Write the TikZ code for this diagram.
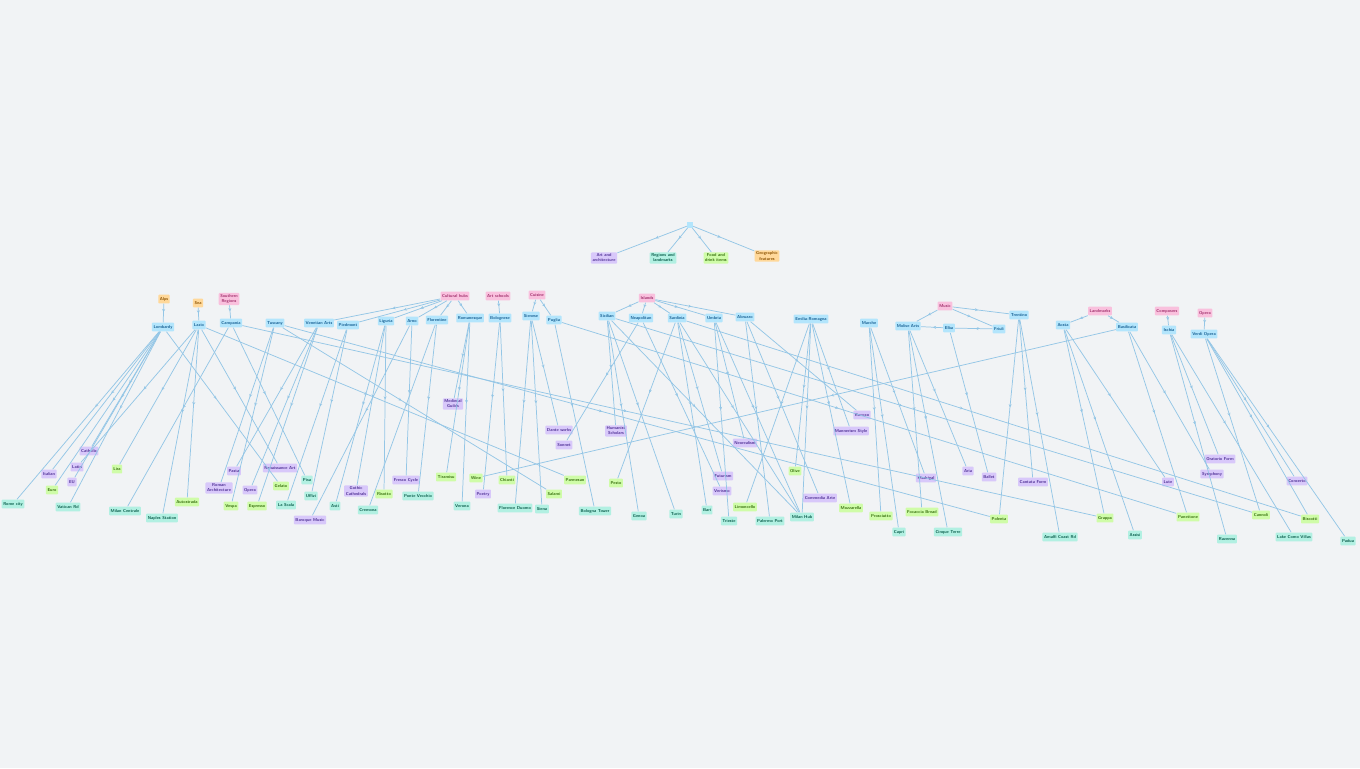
\documentclass[tikz,border=0pt]{standalone}
\usetikzlibrary{arrows.meta,decorations.markings}
\definecolor{bgc}{HTML}{F1F3F5}
\definecolor{linkc}{HTML}{94C6E6}
\definecolor{entfill}{HTML}{B3E5FC}\definecolor{enttext}{HTML}{155E92}
\definecolor{catfill}{HTML}{F9C0DD}\definecolor{cattext}{HTML}{A0306C}
\definecolor{geofill}{HTML}{FFD89A}\definecolor{geotext}{HTML}{8A5000}
\definecolor{artfill}{HTML}{D8C8FA}\definecolor{arttext}{HTML}{4E2F94}
\definecolor{placefill}{HTML}{B2F0E2}\definecolor{placetext}{HTML}{085C4A}
\definecolor{foodfill}{HTML}{CFFCA8}\definecolor{foodtext}{HTML}{356E0C}

\begin{document}
\begin{tikzpicture}[x=0.02cm, y=-0.02cm,
  font=\sffamily\bfseries\fontsize{2.4}{2.9}\selectfont,
  box/.style={rounded corners=0.5pt, inner sep=0.9pt, minimum height=5pt, align=center},
  ent/.style={box, fill=entfill, text=enttext},
  cat/.style={box, fill=catfill, text=cattext},
  geo/.style={box, fill=geofill, text=geotext},
  art/.style={box, fill=artfill, text=arttext},
  place/.style={box, fill=placefill, text=placetext},
  food/.style={box, fill=foodfill, text=foodtext},
  link/.style={draw=linkc, line width=0.42pt, postaction={decorate},
    decoration={markings, mark=at position 0.45 with {\arrow[linkc]{Stealth[length=1.7pt,width=1.7pt]}}}}]
  \fill[bgc] (0,0) rectangle (1360,768);
  \useasboundingbox (0,0) rectangle (1360,768);

  % top tree
  \node[fill=entfill, minimum size=3pt, inner sep=0pt] (root) at (690,225) {};
  \node[art] (t1) at (604,258) {Art and\\architecture};
  \node[place] (t2) at (663,258) {Regions and\\landmarks};
  \node[food] (t3) at (716,258) {Food and\\drink items};
  \node[geo] (t4) at (767,256) {Geographic\\features};

  % categories
  \node[geo] (o1) at (164,299) {Alps};
  \node[geo] (o2) at (198,303) {Sea};
  \node[cat] (k1) at (229,299) {Southern\\Regions};
  \node[cat] (k2) at (455,296) {Cultural hubs};
  \node[cat] (k3) at (498,296) {Art schools};
  \node[cat] (k4) at (537,295) {Cuisine};
  \node[cat] (k5) at (647,298) {Islands};
  \node[cat] (k6) at (945,306) {Music};
  \node[cat] (k7) at (1100,311) {Landmarks};
  \node[cat] (k8) at (1167,311) {Composers};
  \node[cat] (k9) at (1205,313) {Opera};

  % entities
  \node[ent] (p1) at (163,327) {Lombardy};
  \node[ent] (p2) at (199,325) {Lazio};
  \node[ent] (p3) at (231,323) {Campania};
  \node[ent] (p4) at (275,323) {Tuscany};
  \node[ent] (p5) at (319,323) {Venetian Arts};
  \node[ent] (p6) at (348,325) {Piedmont};
  \node[ent] (p7) at (386,321) {Liguria};
  \node[ent] (p8) at (412,321) {Arno};
  \node[ent] (p9) at (437,320) {Florentine};
  \node[ent] (p10) at (470,318) {Romanesque};
  \node[ent] (p11) at (500,318) {Bolognese};
  \node[ent] (p12) at (531,316) {Sienese};
  \node[ent] (p13) at (554,320) {Puglia};
  \node[ent] (p14) at (607,316) {Sicilian};
  \node[ent] (p15) at (641,318) {Neapolitan};
  \node[ent] (p16) at (677,318) {Sardinia};
  \node[ent] (p17) at (714,318) {Umbria};
  \node[ent] (p18) at (745,317) {Abruzzo};
  \node[ent] (p19) at (811,319) {Emilia-Romagna};
  \node[ent] (p20) at (869,323) {Marche};
  \node[ent] (p21) at (908,326) {Molise Arts};
  \node[ent] (p22) at (949,328) {Elba};
  \node[ent] (p23) at (999,329) {Friuli};
  \node[ent] (p24) at (1019,315) {Trentino};
  \node[ent] (p25) at (1063,325) {Aosta};
  \node[ent] (p26) at (1127,327) {Basilicata};
  \node[ent] (p27) at (1169,330) {Ischia};
  \node[ent] (p28) at (1204,334) {Verdi Opera};

  % leaves, left part
  \node[place] (la) at (13,504) {Rome city};
  \node[art] (lb) at (49,474) {Italian};
  \node[food] (lc) at (52,490) {Euro};
  \node[art] (ld) at (72,482) {EU};
  \node[place] (le) at (68,507) {Vatican Rd};
  \node[art] (lf) at (77,467) {Latin};
  \node[art] (lg) at (89,451) {Catholic};
  \node[food] (lh) at (117,469) {Lira};
  \node[place] (li) at (125,511) {Milan Centrale};
  \node[place] (lj) at (162,518) {Naples Station};
  \node[food] (lk) at (187,502) {Autostrada};
  \node[art] (ll) at (219,488) {Roman\\Architecture};
  \node[art] (lm) at (234,471) {Pasta};
  \node[food] (ln) at (231,506) {Vespa};
  \node[art] (lo) at (250,490) {Opera};
  \node[food] (lp) at (257,506) {Espresso};
  \node[art] (lq) at (280,468) {Renaissance Art};
  \node[food] (lr) at (281,486) {Gelato};
  \node[place] (ls) at (286,505) {La Scala};
  \node[place] (lt) at (307,480) {Pisa};
  \node[place] (lu) at (311,496) {Uffizi};
  \node[art] (lv) at (310,520) {Baroque Music};
  \node[place] (lw) at (335,506) {Asti};
  \node[art] (lx) at (356,491) {Gothic\\Cathedrals};
  \node[place] (ly) at (368,510) {Cremona};
  \node[food] (lz) at (384,494) {Risotto};

  % leaves, middle part
  \node[art] (ma) at (406,480) {Fresco Cycle};
  \node[place] (mb) at (418,496) {Ponte Vecchio};
  \node[food] (mc) at (446,477) {Tiramisu};
  \node[art] (md) at (453,404) {Medieval\\Guilds};
  \node[food] (me) at (476,478) {Wine};
  \node[art] (mf) at (483,494) {Poetry};
  \node[food] (mg) at (507,480) {Chianti};
  \node[place] (mh) at (462,506) {Verona};
  \node[place] (mi) at (515,508) {Florence Duomo};
  \node[place] (mj) at (542,509) {Siena};
  \node[food] (mk) at (554,494) {Salami};
  \node[art] (ml) at (559,430) {Dante works};
  \node[art] (mm) at (564,445) {Sonnet};
  \node[art] (mn) at (616,431) {Humanist\\Scholars};
  \node[food] (mo) at (575,480) {Parmesan};
  \node[food] (mp) at (616,483) {Pesto};
  \node[place] (mq) at (595,511) {Bologna Tower};
  \node[place] (mr) at (639,516) {Genoa};
  \node[place] (ms) at (676,514) {Turin};
  \node[place] (mt) at (707,510) {Bari};
  \node[place] (mu) at (729,521) {Trieste};
  \node[art] (mv) at (723,476) {Futurism};
  \node[art] (mw) at (722,491) {Verismo};
  \node[art] (mx) at (745,443) {Neorealism};
  \node[food] (my) at (745,507) {Limoncello};
  \node[place] (mz) at (770,521) {Palermo Port};

  % leaves, right part
  \node[food] (ra) at (795,471) {Olive};
  \node[place] (rb) at (802,517) {Milan Hub};
  \node[art] (rc) at (820,498) {Commedia Arte};
  \node[art] (rd) at (851,431) {Mannerism Style};
  \node[art] (re) at (862,415) {Rococo};
  \node[food] (rf) at (851,508) {Mozzarella};
  \node[food] (rg) at (881,516) {Prosciutto};
  \node[place] (rh) at (899,532) {Capri};
  \node[art] (ri) at (926,478) {Madrigal};
  \node[food] (rj) at (922,512) {Focaccia Bread};
  \node[place] (rk) at (948,532) {Cinque Terre};
  \node[art] (rl) at (968,471) {Aria};
  \node[art] (rm) at (989,477) {Ballet};
  \node[art] (rn) at (1033,482) {Cantata Form};
  \node[food] (ro) at (999,519) {Polenta};
  \node[place] (rp) at (1060,537) {Amalfi Coast Rd};
  \node[food] (rq) at (1105,518) {Grappa};
  \node[place] (rr) at (1135,535) {Assisi};
  \node[art] (rs) at (1168,482) {Lute};
  \node[food] (rt) at (1188,517) {Panettone};
  \node[art] (ru) at (1220,459) {Oratorio Form};
  \node[art] (rv) at (1212,474) {Symphony};
  \node[art] (rw) at (1297,481) {Concerto};
  \node[food] (rx) at (1261,515) {Cannoli};
  \node[food] (ry) at (1310,519) {Biscotti};
  \node[place] (rz) at (1227,539) {Ravenna};
  \node[place] (sa) at (1294,537) {Lake Como Villas};
  \node[place] (sb) at (1348,541) {Padua};

  % connectors
  \foreach \a/\b in {root/t1, root/t2, root/t3, root/t4,
      o1/p1, o2/p2, k1/p3, k2/p5, k2/p6, k2/p7, k2/p8, k2/p9, k2/p10,
      k3/p11, k4/p12, k4/p13, k5/p14, k5/p15, k5/p16, k5/p17, k5/p18,
      k6/p21, k6/p23, k6/p24, p23/p22, p22/p21, k7/p25, k7/p26, k8/p27, k9/p28}
    \draw[link] (\a) -- (\b);
  \foreach \a/\b in {p1/la, p1/lb, p1/lc, p1/ld, p1/le, p1/lg, p1/lr,
      p2/lf, p2/lh, p2/lj, p2/lk, p2/lq, p2/mo, p3/li, p3/lt, p3/rq,
      p4/ll, p4/ln, p4/mk, p4/ro, p5/lm, p5/lo, p5/lp, p6/ls, p6/lu,
      p7/lw, p7/lx, p7/lz, p8/lv, p8/ma, p9/ly, p9/mb, p10/mc, p10/md, p10/mh,
      p11/mf, p11/mg, p12/mi, p12/mj, p12/ml, p13/mq, p13/rt,
      p14/mn, p14/mr, p14/ms, p14/rx, p14/rb, p15/mm, p15/mw,
      p16/mp, p16/mt, p16/mv, p16/ry, p16/rb, p17/mu, p17/mx, p17/rb,
      p18/mz, p18/rc, p18/re, p19/my, p19/ra, p19/rb, p19/rd, p19/rf,
      p20/rg, p20/rh, p20/ri, p21/rj, p21/rk, p21/rl, p22/rm,
      p24/rn, p24/ro, p24/rp, p25/rq, p25/rr, p25/rs,
      p26/me, p26/rt, p26/rv, p27/ru, p27/rz, p27/sa,
      p28/rw, p28/rx, p28/ry, p28/sb}
    \draw[link] (\a) -- (\b);
\end{tikzpicture}
\end{document}
